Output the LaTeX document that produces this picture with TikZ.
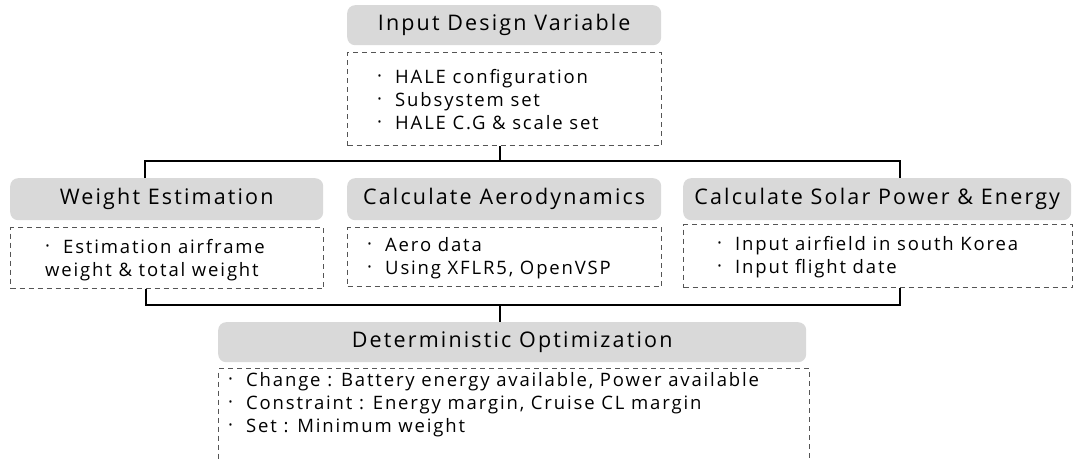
\documentclass[tikz,border=0pt]{standalone}
\usepackage{fontspec}
\setmainfont{Open Sans}[LetterSpace=10]
\definecolor{hdrgray}{HTML}{D9D9D9}
\definecolor{dashgray}{HTML}{555555}
\newcommand\bul{\makebox[18pt][l]{\raisebox{1pt}{·}}}
\tikzset{
  hdr/.style={draw=none, fill=hdrgray, rounded corners=8pt, inner sep=0pt, anchor=north west, font=\fontsize{21.5}{23}\selectfont},
  dbox/.style={draw=dashgray, line width=1pt, dash pattern=on 5pt off 4pt, inner sep=0pt, anchor=north west},
  txt/.style={anchor=west, inner sep=0pt, align=left, font=\fontsize{18.5}{23}\selectfont},
  conn/.style={draw=black, line width=1.4pt}
}
\begin{document}
\begin{tikzpicture}[x=1pt,y=-1pt]
\useasboundingbox (0,0) rectangle (1076,460);
\clip (0,0) rectangle (1076,460);
% headers
\node[hdr, minimum width=314pt, minimum height=40pt] (h1) at (347,5) {Input Design Variable};
\node[hdr, minimum width=313pt, minimum height=42pt] (h2) at (10,178) {Weight Estimation};
\node[hdr, minimum width=314pt, minimum height=42pt] (h3) at (347,178) {Calculate Aerodynamics};
\node[hdr, minimum width=388pt, minimum height=42pt] (h4) at (683,178) {Calculate Solar Power \& Energy};
\node[hdr, minimum width=588pt, minimum height=40pt] (h5) at (218,322) {Deterministic Optimization};
% dashed boxes
\node[dbox, minimum width=314pt, minimum height=93pt] (d1) at (347,52) {};
\node[dbox, minimum width=313pt, minimum height=61pt] (d2) at (10,227) {};
\node[dbox, minimum width=314pt, minimum height=59pt] (d3) at (347,227) {};
\node[dbox, minimum width=389pt, minimum height=63pt] (d4) at (683,224) {};
\node[dbox, minimum width=591pt, minimum height=110pt] (d5) at (218,368) {};
% texts
\node[txt] (t1) at (377,100) {\bul HALE configuration\\\bul Subsystem set\\\bul HALE C.G \& scale set};
\node[txt] (t2) at (45,260) {\bul Estimation airframe\\weight \& total weight};
\node[txt] (t3) at (367,258) {\bul Aero data\\\bul Using XFLR5, OpenVSP};
\node[txt] (t4) at (717,257) {\bul Input airfield in south Korea\\\bul Input flight date};
\node[txt] (t5) at (228,405) {\bul Change : Battery energy available, Power available\\\bul Constraint : Energy margin, Cruise CL margin\\\bul Set : Minimum weight};
% connectors
\coordinate (tl) at (145,161);
\coordinate (tm) at (500,161);
\coordinate (tr) at (900,161);
\coordinate (bl) at (146,305);
\coordinate (bm) at (500,305);
\coordinate (br) at (900,305);
\draw[conn] (d1.south -| tm) -- (tm);
\draw[conn] (h2.north -| tl) -- (tl) -- (tr) -- (h4.north -| tr);
\draw[conn] (d2.south -| bl) -- (bl) -- (br) -- (d4.south -| br);
\draw[conn] (bm) -- (h5.north -| bm);
\end{tikzpicture}
\end{document}
